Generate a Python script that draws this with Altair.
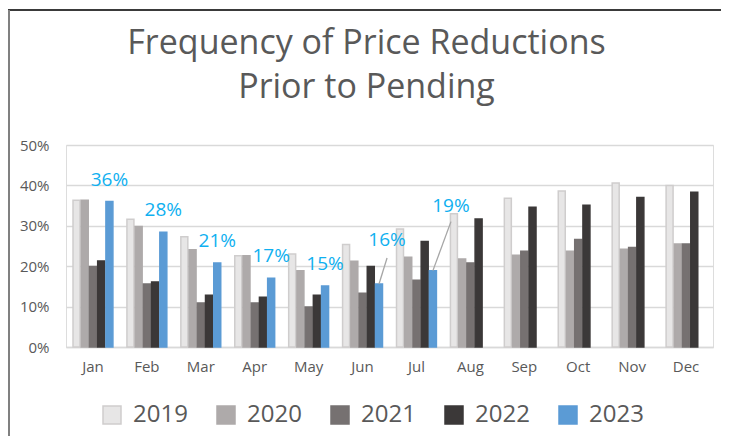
import altair as alt
import pandas as pd

months = ["Jan", "Feb", "Mar", "Apr", "May", "Jun", "Jul", "Aug", "Sep", "Oct", "Nov", "Dec"]
years = ["2019", "2020", "2021", "2022", "2023"]
v2019 = [36.3, 31.6, 27.3, 22.6, 23.0, 25.4, 29.2, 33.0, 36.8, 38.6, 40.6, 40.0]
v2020 = [36.3, 29.8, 24.1, 22.6, 18.9, 21.2, 22.2, 21.8, 22.7, 23.7, 24.2, 25.5]
v2021 = [19.9, 15.6, 10.9, 10.9, 9.9, 13.3, 16.5, 20.8, 23.7, 26.6, 24.6, 25.5]
v2022 = [21.3, 16.1, 12.8, 12.3, 12.8, 19.9, 26.1, 31.7, 34.6, 35.1, 37.0, 38.3]
v2023 = [36.0, 28.4, 20.8, 17.0, 15.1, 15.6, 18.9]

fills = ["#e7e6e6", "#aeaaaa", "#767171", "#3b3838", "#5b9bd5"]
strokes = ["#cfcdcd", "#aeaaaa", "#767171", "#3b3838", "#5b9bd5"]

rows = []
for yr, vals in zip(years, [v2019, v2020, v2021, v2022, v2023]):
    for m, v in zip(months, vals):
        rows.append({"Month": m, "Year": yr, "Value": v / 100})
df = pd.DataFrame(rows)

W, H = 647, 202
FONT = "Open Sans"
GREY = "#595959"
LBL = "#0fb0f0"

x_enc = alt.X("Month:N", sort=months,
              scale=alt.Scale(paddingInner=0.26, paddingOuter=0.13),
              axis=alt.Axis(title=None, labelAngle=0, domain=True, domainColor="#d9d9d9",
                            domainWidth=1.5, ticks=False, labelPadding=12,
                            labelFontSize=15, labelColor=GREY, labelFont=FONT))
xo_enc = alt.XOffset("Year:N", sort=years, scale=alt.Scale(domain=years, paddingInner=0.15, paddingOuter=0))
y_enc = alt.Y("Value:Q", stack=None,
              scale=alt.Scale(domain=[0, 0.5]),
              axis=alt.Axis(title=None, format=".0%", values=[0, 0.1, 0.2, 0.3, 0.4, 0.5],
                            domain=False, ticks=False, grid=True, gridColor="#d9d9d9",
                            gridWidth=1.5, labelPadding=17, labelFontSize=15,
                            labelColor=GREY, labelFont=FONT))

legend = alt.Legend(title=None, orient="none", legendX=34, legendY=258,
                    direction="horizontal", symbolType="square",
                    symbolSize=324, symbolStrokeWidth=1.5,
                    labelFontSize=24, labelFont=FONT, labelColor=GREY,
                    labelOffset=9, columnPadding=26)

base = alt.Chart(df)

bars = base.mark_bar(strokeWidth=1.5).encode(
    x=x_enc,
    xOffset=xo_enc,
    y=y_enc,
    color=alt.Color("Year:N", sort=years, scale=alt.Scale(domain=years, range=fills), legend=legend),
    stroke=alt.Stroke("Year:N", sort=years, scale=alt.Scale(domain=years, range=strokes), legend=legend),
)

d23 = base.transform_filter(alt.datum.Year == "2023")
lbl_common = dict(x=alt.X("Month:N", sort=months), xOffset=xo_enc,
                  y=alt.Y("Value:Q"), text=alt.Text("Value:Q", format=".0%"))

txt_main = d23.transform_filter(
    alt.FieldOneOfPredicate(field="Month", oneOf=["Jan", "Feb", "Mar", "Apr", "May"])
).mark_text(dy=-22, fontSize=19, font=FONT, color=LBL, baseline="middle").encode(**lbl_common)

txt_jun = d23.transform_filter(alt.datum.Month == "Jun").mark_text(
    dx=8, dy=-44, fontSize=19, font=FONT, color=LBL, baseline="middle").encode(**lbl_common)
txt_jul = d23.transform_filter(alt.datum.Month == "Jul").mark_text(
    dx=18, dy=-65, fontSize=19, font=FONT, color=LBL, baseline="middle").encode(**lbl_common)

lead_jun = d23.transform_filter(alt.datum.Month == "Jun").mark_rule(
    color="#a6a6a6", strokeWidth=1.3, xOffset=-1, x2Offset=24.5, y2Offset=-26).encode(
    x=alt.X("Month:N", sort=months), x2=alt.X2("Month:N"), xOffset=xo_enc,
    y=alt.Y("Value:Q"), y2=alt.Y2("Value:Q"))
lead_jul = d23.transform_filter(alt.datum.Month == "Jul").mark_rule(
    color="#a6a6a6", strokeWidth=1.3, xOffset=0, x2Offset=34.5, y2Offset=-49).encode(
    x=alt.X("Month:N", sort=months), x2=alt.X2("Month:N"), xOffset=xo_enc,
    y=alt.Y("Value:Q"), y2=alt.Y2("Value:Q"))

frame_top = alt.Chart(pd.DataFrame({"a": [0]})).mark_rule(color="#3a3a3a", strokeWidth=2).encode(
    x=alt.value(-58), x2=alt.value(W + 8), y=alt.value(-135), y2=alt.value(-135))
frame_left = alt.Chart(pd.DataFrame({"a": [0]})).mark_rule(color="#808080", strokeWidth=2).encode(
    x=alt.value(-57), x2=alt.value(-57), y=alt.value(-135), y2=alt.value(H + 89))

chart = alt.layer(bars, lead_jun, lead_jul, txt_main, txt_jun, txt_jul, frame_top, frame_left).properties(
    width=W, height=H,
    autosize=alt.AutoSizeParams(type="none"),
    padding={"left": 58, "top": 137, "right": 8, "bottom": 89},
    title=alt.TitleParams(["Frequency of Price Reductions", "Prior to Pending"],
                          fontSize=34, font=FONT, fontWeight="normal", color=GREY,
                          anchor="middle", dx=-23, dy=136, lineHeight=44, offset=40),
).configure_view(stroke=None).configure(background="white")

chart.save("out.html", embed_options={"renderer": "svg", "actions": False})
